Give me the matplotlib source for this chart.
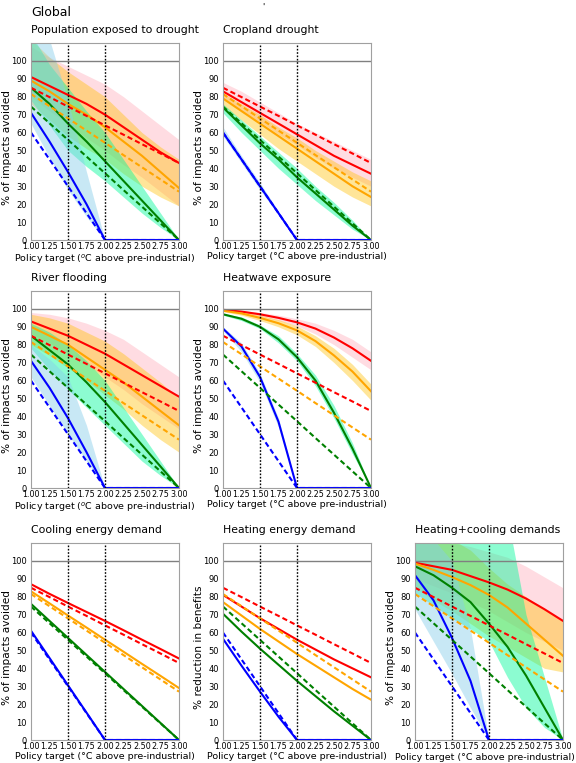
import matplotlib.pyplot as plt

# policy targets (deg C above pre-industrial)
x = [1.0, 1.25, 1.5, 1.75, 2.0, 2.25, 2.5, 2.75, 3.0]

# dashed reference lines (same in every panel)
ref_red = [85, 79.8, 74.5, 69.3, 64, 58.8, 53.5, 48.3, 43]
ref_orange = [81.5, 74.7, 67.9, 61.1, 54.3, 47.4, 40.6, 33.8, 27]
ref_green = [74.5, 65.2, 55.9, 46.6, 37.3, 27.9, 18.6, 9.3, 0]
ref_blue = [60, 45, 30, 15, 0, 0, 0, 0, 0]

# Population exposed to drought
drought_red = [91, 86, 81, 76, 70, 63, 56, 49, 43]
drought_red_lo = [80, 72, 65, 57, 50, 42, 35, 27, 19]
drought_red_hi = [108, 102, 97, 92, 87, 80, 72, 64, 56]
drought_orange = [89, 83, 76, 70, 63, 55, 47, 38, 29]
drought_orange_lo = [76, 67, 58, 51, 45, 37, 30, 24, 19]
drought_orange_hi = [112, 102, 94, 87, 80, 70, 60, 52, 45]
drought_green = [85, 76, 65, 55, 44, 33, 22, 11, 0]
drought_green_lo = [78, 64, 50, 41, 33, 24, 15, 7, 0]
drought_green_hi = [115, 98, 85, 72, 60, 45, 30, 15, 0]
drought_blue = [71, 55, 38, 20, 0, 0, 0, 0, 0]
drought_blue_lo = [65, 46, 28, 13, 0, 0, 0, 0, 0]
drought_blue_hi = [115, 112, 78, 38, 0, 0, 0, 0, 0]

# Cropland drought
crop_red = [83, 77, 71, 65, 59, 53, 47, 42, 37]
crop_red_lo = [79, 72, 66, 59, 53, 46, 40, 35, 30]
crop_red_hi = [88, 83, 77, 71, 65, 60, 55, 50, 45]
crop_orange = [79, 72, 65, 58, 51, 44, 37, 30, 24]
crop_orange_lo = [75, 67, 59, 51, 44, 37, 30, 24, 19]
crop_orange_hi = [82, 76, 70, 63, 57, 50, 44, 38, 33]
crop_green = [74, 64, 54, 45, 35, 26, 17, 8, 0]
crop_green_lo = [71, 60, 50, 40, 31, 22, 14, 6, 0]
crop_green_hi = [76, 67, 58, 49, 40, 30, 21, 11, 0]
crop_blue = [60, 45, 30, 15, 0, 0, 0, 0, 0]
crop_blue_lo = [58, 43, 28, 14, 0, 0, 0, 0, 0]
crop_blue_hi = [63, 47, 32, 16, 0, 0, 0, 0, 0]

# River flooding
flood_red = [93, 89, 85, 80, 75, 69, 63, 57, 51]
flood_red_lo = [86, 81, 75, 69, 62, 55, 47, 40, 33]
flood_red_hi = [98, 97, 95, 92, 88, 83, 76, 69, 62]
flood_orange = [90, 85, 80, 73, 66, 59, 51, 43, 35]
flood_orange_lo = [80, 74, 67, 60, 52, 44, 35, 27, 20]
flood_orange_hi = [97, 95, 92, 87, 82, 75, 67, 59, 50]
flood_green = [85, 77, 69, 59, 48, 36, 24, 12, 0]
flood_green_lo = [78, 66, 55, 45, 35, 25, 15, 7, 0]
flood_green_hi = [92, 87, 80, 71, 60, 45, 30, 15, 0]
flood_blue = [71, 56, 39, 20, 0, 0, 0, 0, 0]
flood_blue_lo = [62, 46, 30, 15, 0, 0, 0, 0, 0]
flood_blue_hi = [80, 72, 62, 35, 0, 0, 0, 0, 0]

# Heatwave exposure
heat_red = [99.5, 98.5, 97, 95, 92.5, 89, 84, 78, 71]
heat_red_lo = [99, 98, 96, 93.5, 90.5, 86, 80, 73, 66]
heat_red_hi = [99.8, 99, 98, 96.5, 94.5, 92, 88, 83, 76]
heat_orange = [99, 97.5, 95, 92, 88, 82, 74, 65, 54]
heat_orange_lo = [98.5, 96.5, 93.5, 90, 85.5, 79, 70, 60, 49]
heat_orange_hi = [99.5, 98.5, 96.5, 94, 90.5, 85, 78, 69, 58]
heat_green = [97, 94.5, 90, 83, 73, 60, 42, 22, 0]
heat_green_lo = [96.5, 93.5, 89, 81, 71, 57, 39, 19, 0]
heat_green_hi = [97.5, 95.5, 91, 85, 75, 63, 46, 25, 0]
heat_blue = [89, 79, 62, 37, 0, 0, 0, 0, 0]
heat_blue_lo = [88, 76, 59, 34, 0, 0, 0, 0, 0]
heat_blue_hi = [90, 81, 64, 39, 0, 0, 0, 0, 0]

# Cooling energy demand
cool_red = [87, 81.6, 76.5, 71.5, 66.5, 61.3, 56, 50.8, 45.5]
cool_orange = [83, 76.3, 69.5, 62.8, 56, 49.3, 42.5, 35.8, 29]
cool_green = [76, 66.5, 57, 47.5, 38, 28.5, 19, 9.5, 0]
cool_blue = [61, 45.8, 30.5, 15.3, 0, 0, 0, 0, 0]

# Heating energy demand
heating_red = [81, 74.5, 68, 62, 56, 50.5, 45, 40, 35]
heating_orange = [77, 69.5, 62, 55, 48, 41.5, 35, 28.5, 22.5]
heating_green = [70.5, 60.5, 51, 42, 33, 24.5, 16, 8, 0]
heating_blue = [56.5, 41.5, 27, 13, 0, 0, 0, 0, 0]

# Heating+cooling demands
hc_red = [99, 97, 95, 91.5, 88, 84, 79, 73, 66.5]
hc_red_lo = [90, 86, 82, 77, 72, 66, 60, 55, 50]
hc_red_hi = [115, 112, 110, 108, 105, 102, 97, 91, 85]
hc_orange = [98.5, 95, 91, 86.5, 81, 74, 65, 56, 47]
hc_orange_lo = [85, 78, 72, 65, 58, 52, 46, 40, 38]
hc_orange_hi = [115, 115, 112, 106, 96, 87, 80, 73, 67]
hc_green = [97, 92, 85, 77, 65, 52, 36, 18, 0]
hc_green_lo = [82, 75, 68, 62, 55, 35, 18, 7, 0]
hc_green_hi = [120, 120, 120, 120, 120, 125, 70, 35, 0]
hc_blue = [92, 78, 57, 33, 0, 0, 0, 0, 0]
hc_blue_lo = [73, 55, 37, 18, 0, 0, 0, 0, 0]
hc_blue_hi = [115, 112, 100, 62, 0, 0, 0, 0, 0]

line_colors = ["red", "orange", "green", "blue"]
band_colors = [("pink", 0.55), ("#ffc000", 0.4), ("mediumspringgreen", 0.45), ("skyblue", 0.45)]
refs = [ref_red, ref_orange, ref_green, ref_blue]

xlab_sup = "Policy target ($^o$C above pre-industrial)"
xlab_deg = "Policy target (\u00b0C above pre-industrial)"

panels = [
    ("Population exposed to drought", (0, 0), "% of impacts avoided", xlab_sup,
     [drought_red, drought_orange, drought_green, drought_blue],
     [(drought_red_lo, drought_red_hi), (drought_orange_lo, drought_orange_hi),
      (drought_green_lo, drought_green_hi), (drought_blue_lo, drought_blue_hi)]),
    ("Cropland drought", (0, 1), "% of impacts avoided", xlab_deg,
     [crop_red, crop_orange, crop_green, crop_blue],
     [(crop_red_lo, crop_red_hi), (crop_orange_lo, crop_orange_hi),
      (crop_green_lo, crop_green_hi), (crop_blue_lo, crop_blue_hi)]),
    ("River flooding", (1, 0), "% of impacts avoided", xlab_sup,
     [flood_red, flood_orange, flood_green, flood_blue],
     [(flood_red_lo, flood_red_hi), (flood_orange_lo, flood_orange_hi),
      (flood_green_lo, flood_green_hi), (flood_blue_lo, flood_blue_hi)]),
    ("Heatwave exposure", (1, 1), "% of impacts avoided", xlab_deg,
     [heat_red, heat_orange, heat_green, heat_blue],
     [(heat_red_lo, heat_red_hi), (heat_orange_lo, heat_orange_hi),
      (heat_green_lo, heat_green_hi), (heat_blue_lo, heat_blue_hi)]),
    ("Cooling energy demand", (2, 0), "% of impacts avoided", xlab_deg,
     [cool_red, cool_orange, cool_green, cool_blue], None),
    ("Heating energy demand", (2, 1), "% reduction in benefits", xlab_deg,
     [heating_red, heating_orange, heating_green, heating_blue], None),
    ("Heating+cooling demands", (2, 2), "% of impacts avoided", xlab_deg,
     [hc_red, hc_orange, hc_green, hc_blue],
     [(hc_red_lo, hc_red_hi), (hc_orange_lo, hc_orange_hi),
      (hc_green_lo, hc_green_hi), (hc_blue_lo, hc_blue_hi)]),
]

fig = plt.figure(figsize=(5.76, 7.63), dpi=100)

W, H = 576.0, 763.0
col_left = [31, 223, 415]
row_top = [43, 291, 543]
ax_w, ax_h = 148, 197

for title, (r, c), ylab, xlab, lines, bands in panels:
    ax = fig.add_axes([col_left[c] / W, 1 - (row_top[r] + ax_h) / H, ax_w / W, ax_h / H])
    if bands is not None:
        for (lo, hi), (bc, a) in zip(bands, band_colors):
            ax.fill_between(x, lo, hi, color=bc, alpha=a, lw=0)
    for vals, col in zip(lines, line_colors):
        ax.plot(x, vals, color=col, lw=1.5)
    for vals, col in zip(refs, line_colors):
        ax.plot(x, vals, color=col, lw=1.5, dashes=(2.5, 1.5))
    ax.axhline(100, color="gray", lw=1)
    for xv in (1.5, 2.0):
        ax.axvline(xv, color="black", lw=1, linestyle=(0, (1.2, 1.2)))
    ax.set_xlim(1, 3)
    ax.set_ylim(0, 110)
    ax.set_yticks(range(0, 101, 10))
    ax.set_xticks(x)
    ax.set_xticklabels(["%.2f" % v for v in x])
    ax.tick_params(axis="x", labelsize=5.8, length=0, pad=1.5)
    ax.tick_params(axis="y", labelsize=6, length=0, pad=3)
    for s in ax.spines.values():
        s.set_color("#a0a0a0")
    ax.set_title(title, loc="left", fontsize=7.8, pad=7)
    ax.set_ylabel(ylab, fontsize=7.6)
    ax.yaxis.set_label_coords(-0.125, 0.47)
    ax.set_xlabel(xlab, fontsize=6.8, labelpad=1)
    if c == 2:
        ax.xaxis.set_label_coords(0.47, -0.068)

fig.text(31 / W, 1 - 13 / H, "Global", fontsize=9, va="center")
fig.text(262 / W, 1 - 7 / H, "'", fontsize=6, va="center")

fig.savefig("out.png", dpi=100)
